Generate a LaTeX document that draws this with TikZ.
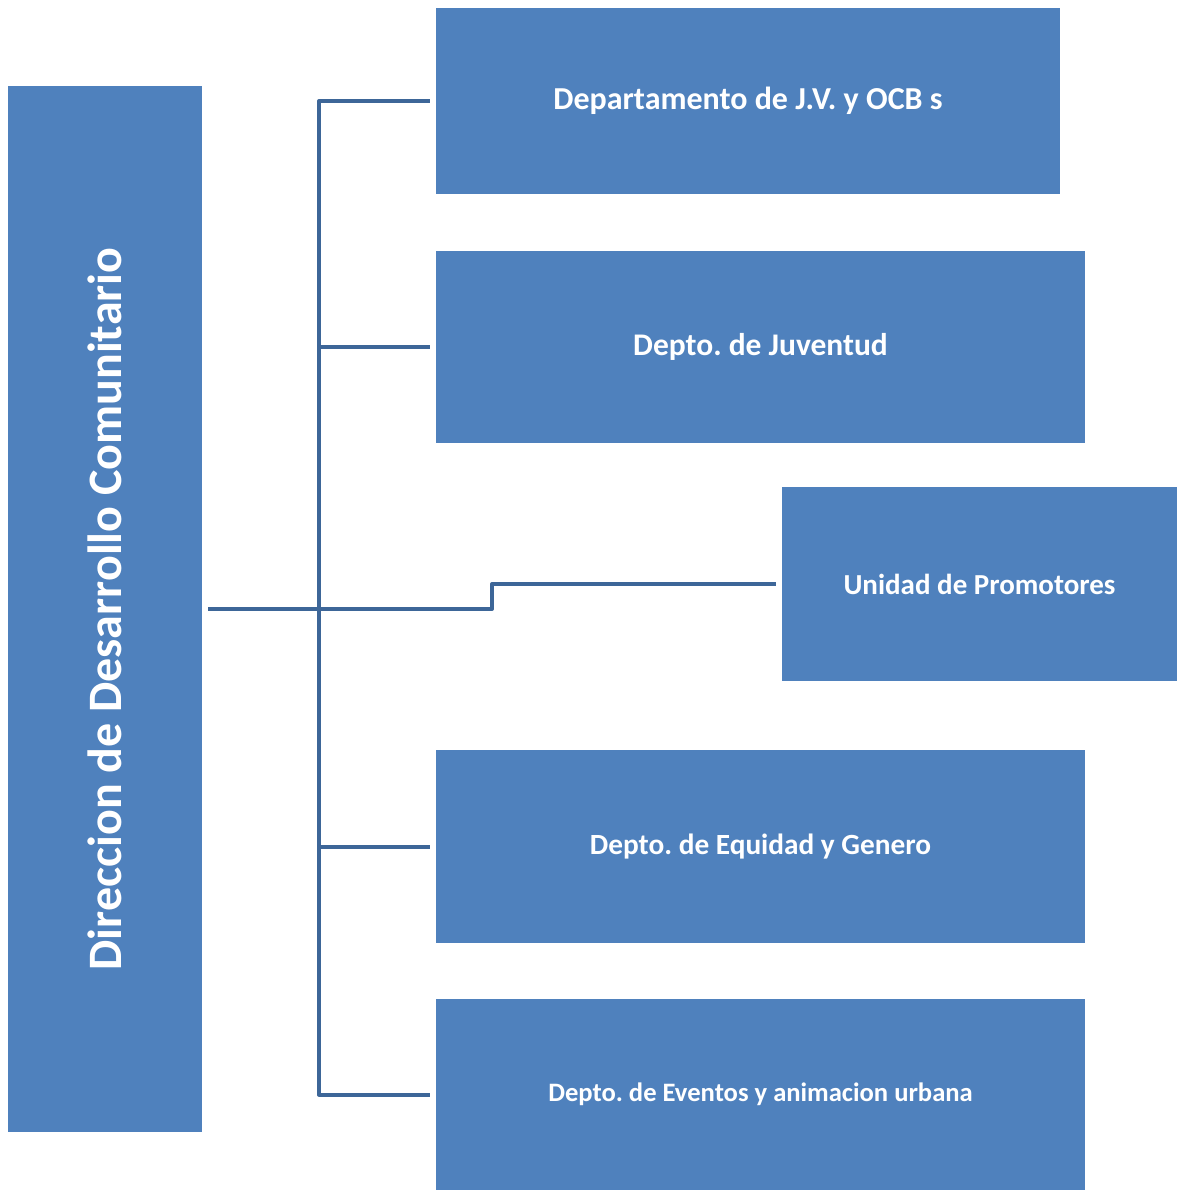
\documentclass[tikz,border=0pt]{standalone}
\usepackage{fontspec}
\setmainfont{Carlito}
\usepackage{tikz}
\usetikzlibrary{positioning,calc}
\definecolor{boxBlue}{HTML}{4F81BD}
\definecolor{lineBlue}{HTML}{3D6698}
\frenchspacing

\begin{document}
\begin{tikzpicture}[x=1pt,y=-1pt,
  unit/.style={rectangle,fill=boxBlue,text=white,font=\bfseries,inner sep=0pt,align=center},
  link/.style={draw=lineBlue,line width=4pt,line join=round}]
  \useasboundingbox (0,0) rectangle (1177,1190);
  % boxes, pixel coordinates of the original chart
  \node[unit,minimum width=194,minimum height=1046] (dir) at (105,609)
    {\fontsize{48}{56}\selectfont\rotatebox{90}{Direccion de Desarrollo Comunitario}};
  \node[unit,minimum width=624,minimum height=186] (jv)   at (748,101)    {\fontsize{32}{38}\selectfont Departamento de J.V. y OCB s};
  \node[unit,minimum width=649,minimum height=192] (juv)  at (760.5,347)  {\fontsize{31.5}{38}\selectfont Depto. de Juventud};
  \node[unit,minimum width=395,minimum height=194] (prom) at (979.5,584)  {\fontsize{29}{35}\selectfont Unidad de Promotores};
  \node[unit,minimum width=649,minimum height=193] (eq)   at (760.5,846.5){\fontsize{29.3}{35}\selectfont Depto. de Equidad y Genero};
  \node[unit,minimum width=649,minimum height=191] (ev)   at (760.5,1094.5){\fontsize{26.6}{32}\selectfont Depto. de Eventos y animacion urbana};
  % connectors
  \coordinate (hub) at (319,609);
  \coordinate (jog) at (492,609);
  \draw[link] ([xshift=6pt]dir.east) -- (hub);
  \draw[link] ([xshift=-6pt]jv.west) -| (hub) |- ([xshift=-6pt]ev.west);
  \draw[link] ([xshift=-6pt]juv.west) -- (juv.west -| hub);
  \draw[link] ([xshift=-6pt]eq.west) -- (eq.west -| hub);
  \draw[link] (hub) -- (jog) |- ([xshift=-6pt]prom.west);
\end{tikzpicture}
\end{document}
